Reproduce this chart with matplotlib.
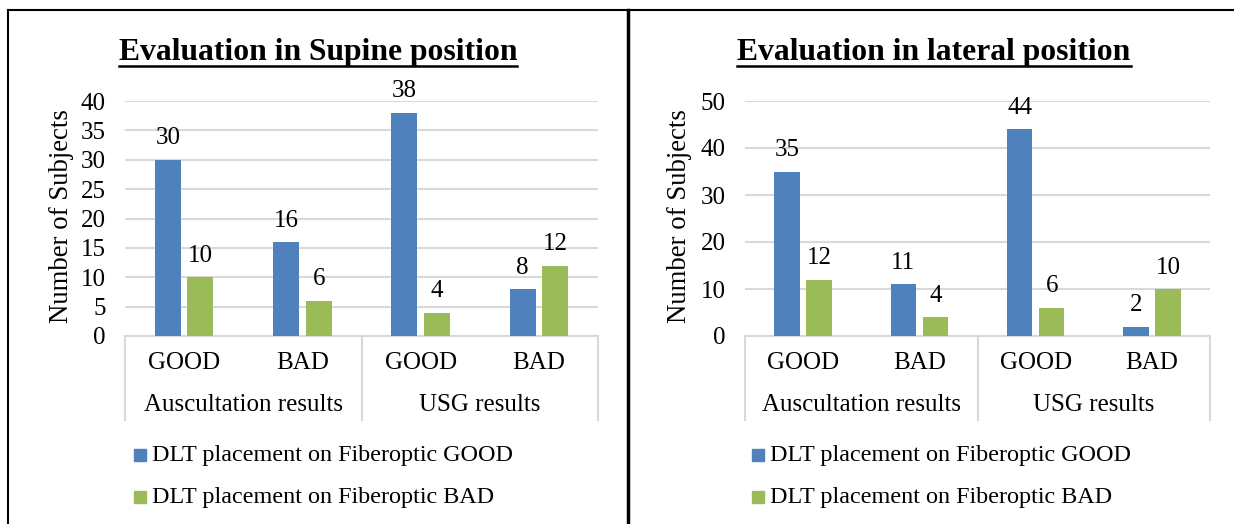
import matplotlib
matplotlib.use('Agg')
import matplotlib.pyplot as plt
from matplotlib.lines import Line2D
from matplotlib.patches import Rectangle
import matplotlib.transforms as mtransforms
import numpy as np

plt.rcParams['font.family'] = ['Liberation Serif', 'DejaVu Serif']

groups = ['Auscultation results', 'USG results']
subcats = ['GOOD', 'BAD', 'GOOD', 'BAD']
series_names = ['DLT placement on Fiberoptic GOOD', 'DLT placement on Fiberoptic BAD']
supine_good = [30, 16, 38, 8]
supine_bad = [10, 6, 4, 12]
lateral_good = [35, 11, 44, 2]
lateral_bad = [12, 4, 6, 10]
titles = ['Evaluation in Supine position', 'Evaluation in lateral position']
ylabel = 'Number of Subjects'
colors = ['#4F81BD', '#9BBB59']
grid_c = '#D9D9D9'

W, H = 1234, 524
fig = plt.figure(figsize=(W / 100, H / 100), dpi=100)


def px(x0, y0, x1, y1):
    return [x0 / W, 1 - y1 / H, (x1 - x0) / W, (y1 - y0) / H]


def fx(x):
    return x / W


def fy(y):
    return 1 - y / H


def panel(rect, good, bad, ymax, ystep, title, title_cx, ylab_x, leg_x):
    ax = fig.add_axes(px(*rect))
    x = np.arange(len(subcats))
    off, bw = 0.138, 0.22
    b1 = ax.bar(x - off, good, bw, color=colors[0], zorder=3)
    b2 = ax.bar(x + off, bad, bw, color=colors[1], zorder=3)
    for bars, vals in ((b1, good), (b2, bad)):
        for r, v in zip(bars, vals):
            ax.annotate(str(v), (r.get_x() + r.get_width() / 2, v),
                        xytext=(0, 7.5), textcoords='offset points',
                        ha='center', va='bottom', fontsize=18)
    ax.set_xlim(-0.5, len(subcats) - 0.5)
    ax.set_ylim(0, ymax)
    ax.set_yticks(np.arange(0, ymax + 1, ystep))
    ax.yaxis.grid(True, color=grid_c, lw=1.5, zorder=0)
    ax.set_axisbelow(True)
    for s in ('top', 'right', 'left'):
        ax.spines[s].set_visible(False)
    ax.spines['bottom'].set_color(grid_c)
    ax.spines['bottom'].set_linewidth(1.5)
    ax.tick_params(axis='y', length=0, labelsize=18, pad=14)
    ax.tick_params(axis='x', length=0, labelbottom=False)
    # hierarchical category axis
    tr = mtransforms.blended_transform_factory(ax.transData, ax.transAxes)
    h = rect[3] - rect[1]
    low = -(420 - rect[3]) / h
    for xv in (-0.5, 1.5, 3.5):
        ax.add_line(Line2D([xv, xv], [0, low], transform=tr, color=grid_c,
                           lw=1.5, clip_on=False))
    for xi, lab in zip(x, subcats):
        ax.text(xi, -(363 - rect[3]) / h, lab, transform=tr, ha='center',
                va='center', fontsize=18)
    for gi, g in enumerate(groups):
        ax.text(gi * 2 + 0.5, -(405 - rect[3]) / h, g, transform=tr,
                ha='center', va='center', fontsize=18)
    # y label
    fig.text(fx(ylab_x), fy((rect[1] + rect[3]) / 2 - 2), ylabel, rotation=90,
             ha='center', va='center', fontsize=19.3)
    # title
    t = fig.text(fx(title_cx), fy(60), title, ha='center', va='baseline',
                 fontsize=22.8, fontweight='bold')
    # legend
    for i, (name, c) in enumerate(zip(series_names, colors)):
        cy = 455 + 42 * i
        fig.patches.append(Rectangle((fx(leg_x), fy(cy + 6)), 12 / W, 12 / H,
                                     transform=fig.transFigure, color=c))
        fig.text(fx(leg_x + 18), fy(cy), name, ha='left', va='center',
                 fontsize=17.4)
    return ax, t


ax1, t1 = panel((125, 101, 598, 336), supine_good, supine_bad, 40, 5,
                titles[0], 318, 62, 134)
ax2, t2 = panel((745, 101, 1210, 336), lateral_good, lateral_bad, 50, 10,
                titles[1], 934, 680, 752)

# underline titles
fig.canvas.draw()
r = fig.canvas.get_renderer()
for t in (t1, t2):
    bb = t.get_window_extent(r)
    fig.add_artist(Line2D([bb.x0 / W, bb.x1 / W], [fy(66), fy(66)],
                          transform=fig.transFigure, color='black', lw=1.8))

# frame lines
fig.add_artist(Line2D([fx(8), 1], [fy(10), fy(10)], transform=fig.transFigure,
                      color='black', lw=1.5))
fig.add_artist(Line2D([fx(8), fx(8)], [fy(10), 0], transform=fig.transFigure,
                      color='black', lw=1.5))
fig.add_artist(Line2D([fx(628), fx(628)], [fy(10), 0], transform=fig.transFigure,
                      color='black', lw=2.5))

fig.savefig('out.png', dpi=100)
